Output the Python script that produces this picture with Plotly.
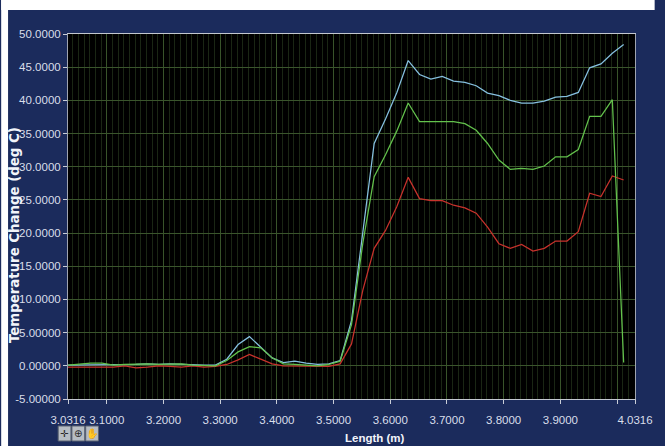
import plotly.graph_objects as go

# Sample positions along the bar (m)
length_m = [
    3.0316, 3.0516, 3.0716, 3.0916, 3.1116, 3.1316, 3.1516, 3.1716, 3.1916, 3.2116,
    3.2316, 3.2516, 3.2716, 3.2916, 3.3116, 3.3316, 3.3516, 3.3716, 3.3916, 3.4116,
    3.4316, 3.4516, 3.4716, 3.4916, 3.5116, 3.5316, 3.5516, 3.5716, 3.5916, 3.6116,
    3.6316, 3.6516, 3.6716, 3.6916, 3.7116, 3.7316, 3.7516, 3.7716, 3.7916, 3.8116,
    3.8316, 3.8516, 3.8716, 3.8916, 3.9116, 3.9316, 3.9516, 3.9716, 3.9916, 4.0116,
]

# Temperature change (deg C) for each channel
temp_blue = [
    0.1, 0.1, 0.2, 0.2, 0.1, 0.1, 0.2, 0.3, 0.2, 0.3,
    0.2, 0.2, 0.1, 0.1, 1.0, 3.2, 4.4, 2.8, 1.2, 0.5,
    0.7, 0.4, 0.2, 0.3, 0.8, 6.8, 20.4, 33.5, 37.2, 41.2,
    46.0, 43.9, 43.2, 43.6, 42.9, 42.7, 42.2, 41.1, 40.7, 40.0,
    39.6, 39.6, 39.9, 40.5, 40.6, 41.2, 44.9, 45.5, 47.1, 48.4,
]
temp_green = [
    0.1, 0.3, 0.4, 0.4, 0.1, 0.2, 0.3, 0.3, 0.2, 0.2,
    0.3, 0.1, 0.1, 0.0, 0.8, 2.1, 2.9, 2.7, 1.2, 0.3,
    0.2, 0.1, 0.0, 0.2, 0.7, 6.2, 18.5, 28.5, 31.8, 35.4,
    39.6, 36.8, 36.8, 36.9, 36.8, 36.5, 35.5, 33.5, 31.0, 29.6,
    29.75, 29.6, 30.1, 31.5, 31.5, 32.6, 37.6, 37.6, 40.1, 0.5,
]
temp_red = [
    -0.2, -0.2, -0.1, -0.1, -0.2, 0.0, -0.3, -0.2, 0.0, -0.1,
    -0.2, 0.0, -0.2, -0.1, 0.2, 0.9, 1.7, 1.0, 0.3, 0.0,
    0.0, -0.1, 0.0, -0.1, 0.3, 3.3, 11.4, 17.7, 20.4, 24.0,
    28.4, 25.2, 24.9, 24.9, 24.2, 23.8, 23.0, 20.9, 18.4, 17.7,
    18.3, 17.3, 17.7, 18.8, 18.8, 20.2, 26.0, 25.5, 28.6, 28.0,
]

# Axis ticks
x_tick_vals = [3.0316, 3.1, 3.2, 3.3, 3.4, 3.5, 3.6, 3.7, 3.8, 3.9, 4.0, 4.0316]
x_tick_text = ["3.0316", "3.1000", "3.2000", "3.3000", "3.4000", "3.5000",
               "3.6000", "3.7000", "3.8000", "3.9000", "", "4.0316"]
y_tick_vals = [-5, 0, 5, 10, 15, 20, 25, 30, 35, 40, 45, 50]
y_tick_text = ["-5.00000", "0.00000", "5.00000", "10.0000", "15.0000", "20.0000",
               "25.0000", "30.0000", "35.0000", "40.0000", "45.0000", "50.0000"]

W, H = 665, 446
PL, PR, PT, PB = 68, 645, 34, 399  # plot area in pixels

def px(x):
    return (x - PL) / (PR - PL)

def py(y):
    return (PB - y) / (PB - PT)

PANEL = "#1b2b5c"
TICK_FONT = dict(family="Liberation Sans, Arial, sans-serif", size=11.5, color="#d9deea")

fig = go.Figure()
fig.add_trace(go.Scatter(x=length_m, y=temp_red, mode="lines",
                         line=dict(color="#c8322c", width=1.25), name="Ch 3"))
fig.add_trace(go.Scatter(x=length_m, y=temp_blue, mode="lines",
                         line=dict(color="#86c0e0", width=1.25), name="Ch 1"))
fig.add_trace(go.Scatter(x=length_m, y=temp_green, mode="lines",
                         line=dict(color="#63c24c", width=1.25), name="Ch 2"))

shapes = [
    # white strips outside the graph panel
    dict(type="rect", xref="paper", yref="paper", x0=px(0), x1=px(W), y0=py(0), y1=py(10),
         fillcolor="white", line=dict(width=0), layer="below"),
    dict(type="rect", xref="paper", yref="paper", x0=px(0), x1=px(7), y0=py(0), y1=py(H),
         fillcolor="white", line=dict(width=0), layer="below"),
]

annotations = [
    dict(text="<b>Length (m)</b>", xref="paper", yref="paper", x=px(380), y=py(438),
         showarrow=False, font=dict(family="Liberation Sans, Arial, sans-serif",
                                    size=11.5, color="#f2f4fa"),
         xanchor="center", yanchor="middle"),
    dict(text="<b>Temperature Change (deg C)</b>", xref="paper", yref="paper",
         x=px(13), y=py(235), textangle=-90, showarrow=False,
         font=dict(family="DejaVu Sans, sans-serif", size=13.3, color="#f2f4fa"),
         xanchor="center", yanchor="middle"),
]

# graph palette buttons
for i, glyph in enumerate(["\u271b", "\u2295", "\u270b"]):
    x0 = 58 + i * 14
    shapes.append(dict(type="rect", xref="paper", yref="paper",
                       x0=px(x0), x1=px(x0 + 13), y0=py(441), y1=py(426),
                       fillcolor="#b7bdc4", line=dict(color="#5a6270", width=1)))
    annotations.append(dict(text=glyph, xref="paper", yref="paper",
                            x=px(x0 + 6.5), y=py(433.5), showarrow=False,
                            font=dict(family="DejaVu Sans, sans-serif", size=10, color="#2a2a2a"),
                            xanchor="center", yanchor="middle"))

fig.update_layout(
    width=W, height=H,
    margin=dict(l=PL, r=W - PR, t=PT, b=H - PB, pad=0),
    paper_bgcolor=PANEL,
    plot_bgcolor="#000000",
    showlegend=False,
    shapes=shapes,
    annotations=annotations,
    xaxis=dict(
        range=[3.0316, 4.0316],
        tickmode="array", tickvals=x_tick_vals, ticktext=x_tick_text,
        tickangle=0,
        ticks="outside", ticklen=4, tickcolor="#c9cdd8", tickwidth=1,
        ticklabelstandoff=6,
        tickfont=TICK_FONT,
        showgrid=True, gridcolor="#38532a", gridwidth=1,
        minor=dict(dtick=0.01, tick0=3.0, showgrid=True, gridcolor="#1a2614",
                   gridwidth=1, ticks=""),
        showline=True, linecolor="#c3c7d0", linewidth=1, mirror=True,
        zeroline=False,
    ),
    yaxis=dict(
        range=[-5, 50],
        tickmode="array", tickvals=y_tick_vals, ticktext=y_tick_text,
        ticks="outside", ticklen=4, tickcolor="#c9cdd8", tickwidth=1,
        tickfont=TICK_FONT,
        showgrid=True, gridcolor="#3a552c", gridwidth=1,
        showline=True, linecolor="#9fa4b0", linewidth=1, mirror=True,
        zeroline=False,
    ),
)

fig.write_html("out.html")
